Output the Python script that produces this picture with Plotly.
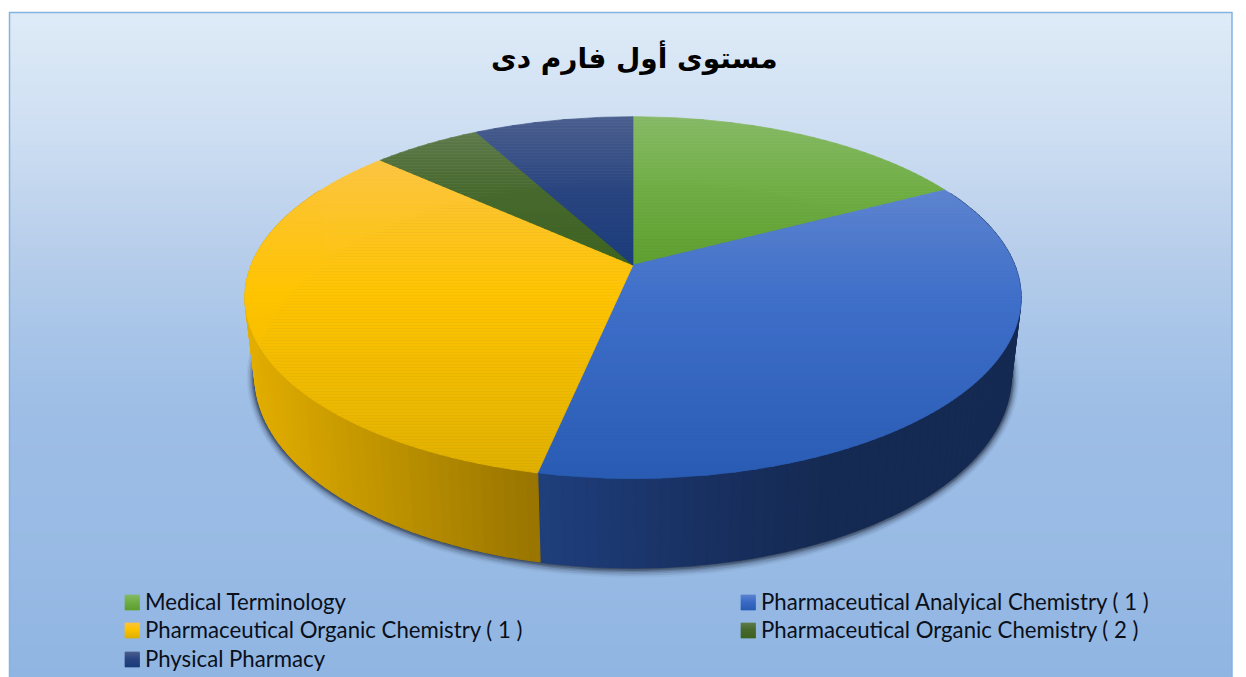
import math
import plotly.graph_objects as go

# ---- data ----
categories = ["Medical Terminology", "Pharmaceutical Analyical Chemistry ( 1 )",
              "Pharmaceutical Organic Chemistry ( 1 )", "Pharmaceutical Organic Chemistry ( 2 )",
              "Physical Pharmacy"]
values = [17.3, 36.0, 33.4, 5.4, 7.9]
title_text = "مستوى أول فارم دى"

# ---- styles ----
W, H = 1246, 677
CX = 633.0
TOP = dict(A=381.7, B=175.0, y0=265.0)
BOT = dict(A=372.0, B=186.0, y0=341.0)
K = 0.18
face_stops = [
    [(117, "#86b965"), (190, "#70ae44"), (265, "#5fa030")],
    [(190, "#5d84cf"), (300, "#3f6fc9"), (478, "#2a5cb4")],
    [(161, "#fcc440"), (297, "#ffc400"), (475, "#e0b000")],
    [(131, "#5f7b4c"), (190, "#48692e"), (265, "#3d6420")],
    [(117, "#4b5f8e"), (190, "#2a4580"), (265, "#1b3c7c")],
]
side_stops = [
    [(0, "#446a1f"), (W, "#446a1f")],
    [(540, "#1f3f7c"), (720, "#182f5f"), (830, "#152a52"), (W, "#152a52")],
    [(248, "#e3ae00"), (400, "#bb9000"), (540, "#987400")],
    [(0, "#2c4a18"), (W, "#2c4a18")],
    [(0, "#1b3c7c"), (W, "#1b3c7c")],
]
bg_stops = [(13, "#deebf7"), (120, "#d0e0f3"), (240, "#b9cfeb"), (330, "#a8c5e8"),
            (420, "#9dbde6"), (570, "#97bae4"), (677, "#90b5e2")]
legend_rows = [(0, 125, 595), (1, 741, 595), (2, 125, 623), (3, 741, 623), (4, 125, 652)]


def hex2rgb(c):
    return tuple(int(c[i:i + 2], 16) for i in (1, 3, 5))


def ramp(stops, t):
    if t <= stops[0][0]:
        return stops[0][1]
    for (a, ca), (b, cb) in zip(stops, stops[1:]):
        if t <= b:
            f = (t - a) / (b - a)
            r1, r2 = hex2rgb(ca), hex2rgb(cb)
            return "#%02x%02x%02x" % tuple(round(p + (q - p) * f) for p, q in zip(r1, r2))
    return stops[-1][1]


def proj(theta, m, grow=0.0):
    u, v = math.sin(theta), math.cos(theta)
    s = 1 / (1 + K * v)
    return CX + (m["A"] + grow) * u * s, m["y0"] - (m["B"] + grow) * v * s


def clip(poly, y, keep_below):
    out = []
    inside = (lambda p: p[1] >= y) if keep_below else (lambda p: p[1] <= y)
    for i, p in enumerate(poly):
        q = poly[(i + 1) % len(poly)]
        if inside(p):
            out.append(p)
        if inside(p) != inside(q):
            f = (y - p[1]) / (q[1] - p[1])
            out.append((p[0] + (q[0] - p[0]) * f, y))
    return out


fig = go.Figure()


def add_poly(poly, color, name="", lw=0.7):
    xs = [p[0] for p in poly] + [poly[0][0]]
    ys = [p[1] for p in poly] + [poly[0][1]]
    fig.add_trace(go.Scatter(x=xs, y=ys, mode="lines", fill="toself", fillcolor=color,
                             line=dict(color=color, width=lw), hoverinfo="skip",
                             showlegend=False, name=name))


def add_gradient(poly, stops, name="", step=3.0):
    ymin, ymax = min(p[1] for p in poly), max(p[1] for p in poly)
    y = ymin
    while y < ymax:
        piece = clip(clip(poly, y, True), y + step, False)
        if len(piece) >= 3:
            add_poly(piece, ramp(stops, y + step / 2), name)
        y += step


# shadow under the pie, built from the lower rim
rim_angles = [2 * math.pi * i / 240 for i in range(240)]
for grow, alpha in [(8, .05), (6.5, .10), (5, .14), (3.5, .20), (2.5, .28), (1.2, .35)]:
    col = "rgba(25,35,55,%g)" % alpha
    pts = [proj(t, BOT, grow) for t in rim_angles]
    fig.add_trace(go.Scatter(x=[p[0] for p in pts] + [pts[0][0]], y=[p[1] for p in pts] + [pts[0][1]],
                             mode="lines", fill="toself", fillcolor=col, line=dict(width=0),
                             hoverinfo="skip", showlegend=False))

# slice angles from values
total = sum(values)
edges = [0.0]
for v in values:
    edges.append(edges[-1] + v / total * 2 * math.pi)

# side wall
for i in range(len(values)):
    a0, a1 = edges[i], edges[i + 1]
    n = max(2, int((a1 - a0) / math.radians(1.5)))
    for j in range(n):
        t0 = a0 + (a1 - a0) * j / n
        t1 = a0 + (a1 - a0) * (j + 1) / n
        if math.cos((t0 + t1) / 2) > 0.45:
            continue
        poly = [proj(t0, TOP), proj(t1, TOP), proj(t1, BOT), proj(t0, BOT)]
        xm = sum(p[0] for p in poly) / len(poly)
        add_poly(poly, ramp(side_stops[i], xm), categories[i], lw=1.2)

# top faces
for i in range(len(values)):
    a0, a1 = edges[i], edges[i + 1]
    n = max(8, int((a1 - a0) / math.radians(1)))
    poly = [(CX, TOP["y0"])] + [proj(a0 + (a1 - a0) * j / n, TOP) for j in range(n + 1)]
    add_gradient(poly, face_stops[i], categories[i])

# legend
for idx, x0, y0 in legend_rows:
    sq = [(x0, y0), (x0 + 14.5, y0), (x0 + 14.5, y0 + 15), (x0, y0 + 15)]
    ymap = face_stops[idx]
    s0, s1 = ymap[0][0], ymap[-1][0]
    add_gradient(sq, [(y0 + (a - s0) / (s1 - s0) * 15, c) for a, c in ymap], categories[idx], step=2.0)
    fig.add_annotation(x=x0 + 19, y=y0 + 6.8, xref="x", yref="y", xanchor="left", yanchor="middle",
                       text=categories[idx], showarrow=False, borderpad=0,
                       font=dict(family="Lato, Open Sans, sans-serif", size=22.2, color="#0a0f1a"))

# title
fig.add_annotation(x=634, y=57, xref="x", yref="y", xanchor="center", yanchor="middle",
                   text="<b>%s</b>" % title_text, showarrow=False,
                   font=dict(family="DejaVu Sans, sans-serif", size=28, color="#000000"))

# background gradient and border
shapes = []
y = 13
while y < H:
    shapes.append(dict(type="rect", xref="x", yref="y", x0=10, x1=1232, y0=y, y1=y + 3, layer="below",
                       fillcolor=ramp(bg_stops, y + 1.5), line=dict(width=0)))
    y += 3
shapes.append(dict(type="rect", xref="x", yref="y", x0=9.5, x1=1232, y0=12.5, y1=H + 5, layer="below",
                   fillcolor="rgba(0,0,0,0)", line=dict(color="#84b3e2", width=1.5)))

fig.update_layout(width=W, height=H, margin=dict(l=0, r=0, t=0, b=0), autosize=False,
                  paper_bgcolor="#ffffff", plot_bgcolor="#ffffff", shapes=shapes, showlegend=False,
                  xaxis=dict(range=[0, W], visible=False, fixedrange=True),
                  yaxis=dict(range=[H, 0], visible=False, fixedrange=True),
                  hovermode=False)
fig.write_html("out.html", config=dict(displayModeBar=False),
               post_script="document.body.style.margin='0';document.documentElement.style.overflow='hidden';")
